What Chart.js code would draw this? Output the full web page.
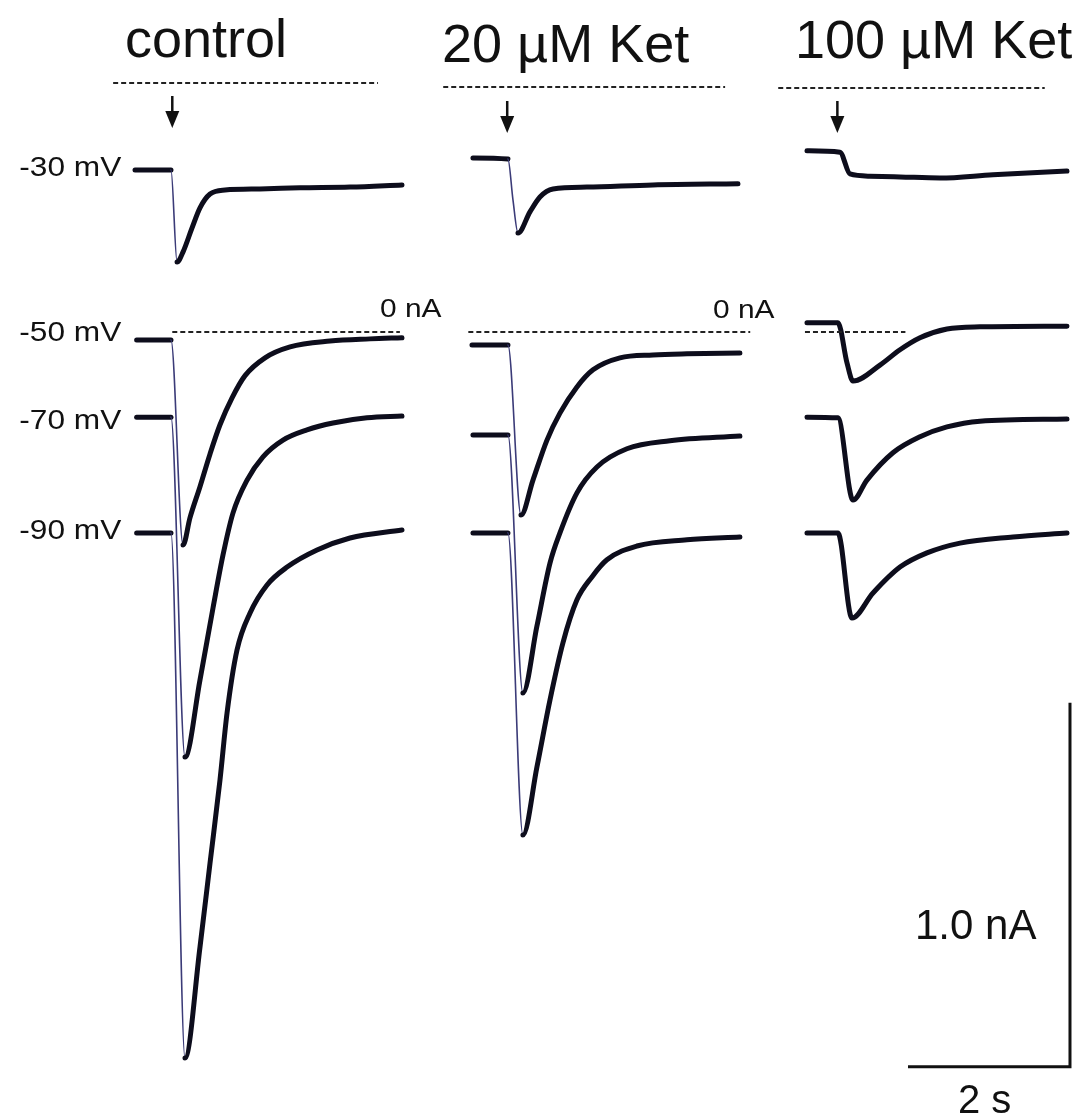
<!DOCTYPE html>
<html>
<head>
<meta charset="utf-8">
<script src="https://cdn.jsdelivr.net/npm/chart.js@4.4.1/dist/chart.umd.min.js"></script>
<style>
  body { margin: 0; background: #fff; }
  #lienzo { position: relative; width: 1087px; height: 1120px; overflow: hidden; font-family: "Liberation Sans", Arial, sans-serif; color: #111; }
  #lienzo canvas { position: absolute; left: 0; top: 0; }
  .txt { position: absolute; white-space: nowrap; line-height: 1; transform-origin: 0 0; }
  .der { transform-origin: 100% 0; text-align: right; }
</style>
</head>
<body>
<div id="lienzo">
  <canvas id="trazos" width="1087" height="1120"></canvas>
  <div class="txt" style="left:125px; top:11px; font-size:54px;">control</div>
  <div class="txt" style="left:442px; top:16px; font-size:54px;">20 µM Ket</div>
  <div class="txt" style="left:795px; top:12px; font-size:54px;">100 µM Ket</div>
  <div class="txt der" style="right:966px; top:153px; font-size:28px; transform:scaleX(1.13);">-30 mV</div>
  <div class="txt der" style="right:966px; top:318px; font-size:28px; transform:scaleX(1.13);">-50 mV</div>
  <div class="txt der" style="right:966px; top:406px; font-size:28px; transform:scaleX(1.13);">-70 mV</div>
  <div class="txt der" style="right:966px; top:516px; font-size:28px; transform:scaleX(1.13);">-90 mV</div>
  <div class="txt" style="left:380px; top:295px; font-size:26px; transform:scaleX(1.15);">0 nA</div>
  <div class="txt" style="left:713px; top:296px; font-size:26px; transform:scaleX(1.15);">0 nA</div>
  <div class="txt" style="left:915px; top:904px; font-size:42px;">1.0 nA</div>
  <div class="txt" style="left:958px; top:1079px; font-size:40px;">2 s</div>
</div>
<script>
// Tiempo (s) desde el inicio del barrido y corriente (nA)

// control
const tiempoControl30 = [0, 0.444, 0.519, 0.593, 0.704, 0.802, 0.926, 1.111, 1.543, 2.037, 2.654, 3.296];
const corrienteControl30 = [-0.239, -0.239, -0.492, -0.464, -0.398, -0.343, -0.305, -0.294, -0.291, -0.288, -0.286, -0.280];
const tiempoControl50 = [0.02, 0.444, 0.593, 0.679, 0.802, 0.926, 1.049, 1.198, 1.358, 1.605, 1.914, 2.407, 2.901, 3.296];
const corrienteControl50 = [-0.022, -0.022, -0.585, -0.510, -0.425, -0.335, -0.255, -0.181, -0.120, -0.071, -0.041, -0.025, -0.019, -0.016];
const tiempoControl70 = [0.02, 0.444, 0.617, 0.802, 0.963, 1.086, 1.210, 1.383, 1.580, 1.827, 2.123, 2.444, 2.864, 3.296];
const corrienteControl70 = [-0.234, -0.234, -1.168, -0.956, -0.758, -0.613, -0.497, -0.407, -0.343, -0.297, -0.269, -0.250, -0.236, -0.231];
const tiempoControl90 = [0.02, 0.444, 0.617, 0.802, 0.926, 1.049, 1.136, 1.259, 1.420, 1.630, 1.877, 2.247, 2.654, 3.296];
const corrienteControl90 = [-0.552, -0.552, -1.995, -1.690, -1.459, -1.231, -1.047, -0.874, -0.772, -0.695, -0.646, -0.599, -0.566, -0.544];

// 20 µM Ket
const tiempoKet20_30 = [0.037, 0.469, 0.531, 0.593, 0.741, 0.864, 1.025, 1.444, 2.259, 3.309];
const corrienteKet20_30 = [-0.195, -0.198, -0.310, -0.401, -0.343, -0.302, -0.280, -0.275, -0.269, -0.266];
const tiempoKet20_50 = [0.025, 0.469, 0.630, 0.778, 0.951, 1.111, 1.321, 1.519, 1.852, 2.259, 2.679, 3.333];
const corrienteKet20_50 = [-0.036, -0.036, -0.503, -0.407, -0.297, -0.223, -0.151, -0.104, -0.071, -0.063, -0.060, -0.058];
const tiempoKet20_70 = [0.037, 0.469, 0.654, 0.827, 0.988, 1.111, 1.321, 1.568, 1.938, 2.469, 3.333];
const corrienteKet20_70 = [-0.283, -0.283, -0.992, -0.808, -0.635, -0.552, -0.442, -0.371, -0.321, -0.299, -0.286];
const tiempoKet20_90 = [0.037, 0.469, 0.654, 0.827, 0.988, 1.148, 1.321, 1.506, 1.691, 2.062, 2.679, 3.333];
const corrienteKet20_90 = [-0.552, -0.552, -1.382, -1.195, -1.011, -0.854, -0.736, -0.673, -0.626, -0.588, -0.571, -0.563];

// 100 µM Ket
const tiempoKet100_30 = [0.025, 0.432, 0.556, 0.802, 1.173, 1.667, 2.321, 3.235];
const corrienteKet100_30 = [-0.172, -0.176, -0.236, -0.242, -0.244, -0.247, -0.238, -0.228];
const tiempoKet100_50 = [0.025, 0.407, 0.519, 0.593, 0.926, 1.173, 1.420, 1.753, 2.160, 3.235];
const corrienteKet100_50 = [0.025, 0.025, -0.085, -0.135, -0.091, -0.049, -0.016, 0.008, 0.014, 0.016];
const tiempoKet100_70 = [0.025, 0.407, 0.593, 0.765, 1.086, 1.420, 1.753, 2.160, 3.235];
const corrienteKet100_70 = [-0.234, -0.236, -0.462, -0.407, -0.332, -0.288, -0.261, -0.245, -0.239];
const tiempoKet100_90 = [0.025, 0.407, 0.580, 0.840, 1.173, 1.506, 1.914, 2.568, 3.235];
const corrienteKet100_90 = [-0.552, -0.552, -0.786, -0.717, -0.646, -0.607, -0.580, -0.563, -0.552];

// estímulo (s) y barras de escala
const tiemposEstimulo = [0.46, 0.46, 0.40];
const escalaTiempo = 2;       // s
const escalaCorriente = 1.0;  // nA

// --- colocación en la figura ---
const desfasePanel = [1.667, 5.802, 9.938];        // s
const desfaseFilaSuperior = [0.684, 0.673, 0.670]; // nA
const ceroSuperior = [[-0.27, 3.0], [-0.33, 3.15], [-0.33, 2.96]];
const ceroInferior = [[0.46, 3.27], [-0.02, 3.46], [0, 1.24]];
const esquinaEscala = { x: 13.21, y: -2.019 };
const flechaArriba = [96, 101, 101];

const trazos = [
  [0, true, tiempoControl30, corrienteControl30],
  [0, false, tiempoControl50, corrienteControl50],
  [0, false, tiempoControl70, corrienteControl70],
  [0, false, tiempoControl90, corrienteControl90],
  [1, true, tiempoKet20_30, corrienteKet20_30],
  [1, false, tiempoKet20_50, corrienteKet20_50],
  [1, false, tiempoKet20_70, corrienteKet20_70],
  [1, false, tiempoKet20_90, corrienteKet20_90],
  [2, true, tiempoKet100_30, corrienteKet100_30],
  [2, false, tiempoKet100_50, corrienteKet100_50],
  [2, false, tiempoKet100_70, corrienteKet100_70],
  [2, false, tiempoKet100_90, corrienteKet100_90]
];

// la bajada rápida tras el estímulo se ve como un trazo fino
function esCaida(ctx) {
  const a = ctx.p0.parsed, b = ctx.p1.parsed;
  return (a.y - b.y) / (b.x - a.x) > 1.4;
}

const datasets = [];

// líneas de 0 nA
for (let p = 0; p < 3; p++) {
  const ys = desfaseFilaSuperior[p];
  datasets.push({
    data: ceroSuperior[p].map(t => ({ x: desfasePanel[p] + t, y: ys })),
    borderColor: "#222", borderWidth: 2, borderDash: [5, 3]
  });
  datasets.push({
    data: ceroInferior[p].map(t => ({ x: desfasePanel[p] + t, y: 0 })),
    borderColor: "#222", borderWidth: 2, borderDash: [5, 3]
  });
}

trazos.forEach(([p, arriba, t, i]) => {
  const dy = arriba ? desfaseFilaSuperior[p] : 0;
  datasets.push({
    data: t.map((v, k) => ({ x: desfasePanel[p] + v, y: i[k] + dy })),
    cubicInterpolationMode: "monotone",
    borderJoinStyle: "round",
    borderCapStyle: "round",
    borderColor: "#0d0d1c",
    borderWidth: 5,
    segment: {
      borderWidth: ctx => esCaida(ctx) ? 1.6 : 5,
      borderColor: ctx => esCaida(ctx) ? "#3b3b78" : "#0d0d1c"
    }
  });
});

// barras de escala
datasets.push({
  data: [
    { x: esquinaEscala.x - escalaTiempo, y: esquinaEscala.y },
    { x: esquinaEscala.x, y: esquinaEscala.y },
    { x: esquinaEscala.x, y: esquinaEscala.y + escalaCorriente }
  ],
  borderColor: "#111", borderWidth: 3, borderJoinStyle: "miter"
});

const flechas = {
  id: "flechas",
  afterDatasetsDraw(chart) {
    const c = chart.ctx;
    c.save();
    c.fillStyle = "#111";
    c.strokeStyle = "#111";
    c.lineWidth = 2.5;
    tiemposEstimulo.forEach((t, p) => {
      const x = chart.scales.x.getPixelForValue(desfasePanel[p] + t);
      const y0 = flechaArriba[p];
      c.beginPath();
      c.moveTo(x, y0);
      c.lineTo(x, y0 + 20);
      c.stroke();
      c.beginPath();
      c.moveTo(x - 7, y0 + 15);
      c.lineTo(x + 7, y0 + 15);
      c.lineTo(x, y0 + 32);
      c.closePath();
      c.fill();
    });
    c.restore();
  }
};

new Chart(document.getElementById("trazos"), {
  type: "line",
  data: { datasets },
  options: {
    responsive: false,
    animation: false,
    devicePixelRatio: 1,
    layout: { padding: 0 },
    elements: { point: { radius: 0 }, line: { fill: false } },
    plugins: { legend: { display: false }, tooltip: { enabled: false } },
    scales: {
      x: { type: "linear", min: 0, max: 13.42, display: false },
      y: { type: "linear", min: -2.165, max: 0.912, display: false }
    }
  },
  plugins: [flechas]
});
</script>
</body>
</html>
